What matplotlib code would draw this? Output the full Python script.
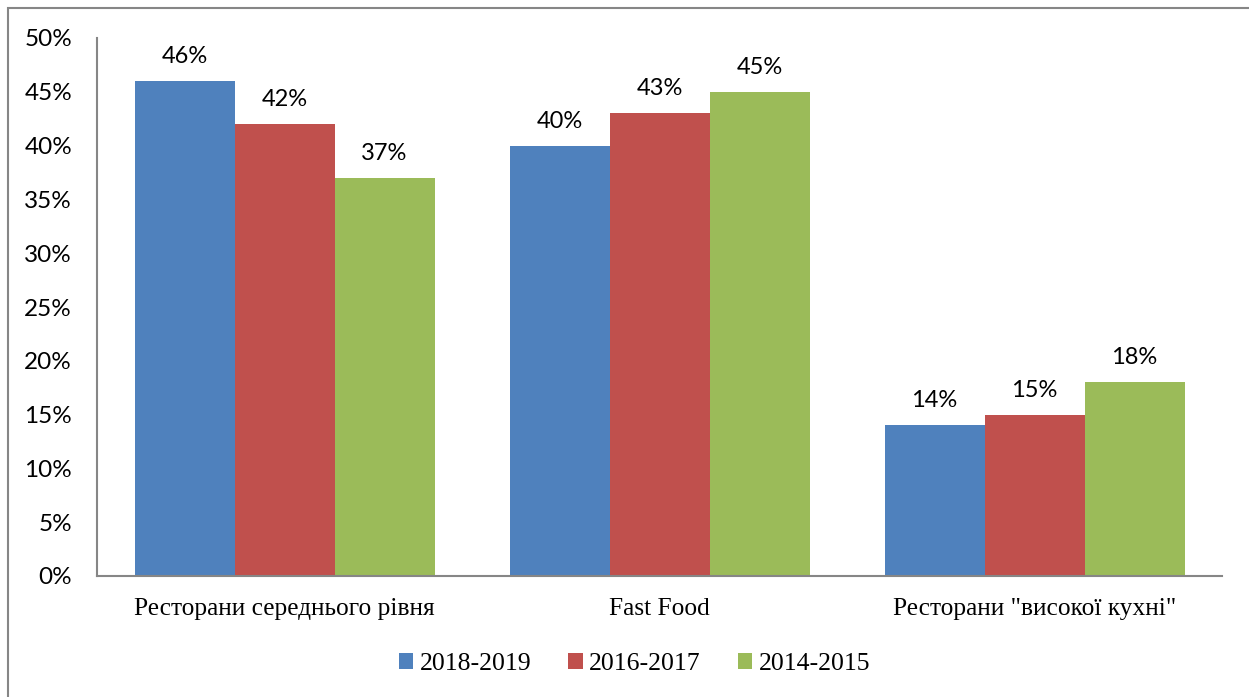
import numpy as np
import matplotlib
matplotlib.use("Agg")
import matplotlib.pyplot as plt
from matplotlib.patches import Rectangle
from matplotlib.ticker import MultipleLocator, FuncFormatter

# categories and series (values in %)
categories = ["Ресторани середнього рівня", "Fast Food", 'Ресторани "високої кухні"']
series_names = ["2018-2019", "2016-2017", "2014-2015"]
vals_2018_2019 = [46, 40, 14]
vals_2016_2017 = [42, 43, 15]
vals_2014_2015 = [37, 45, 18]
colors = ["#4F81BD", "#C0504D", "#9BBB59"]

sans = ["Lato", "DejaVu Sans"]
serif = ["Liberation Serif", "DejaVu Serif"]

fig = plt.figure(figsize=(12.49, 6.97), dpi=100)
ax = fig.add_axes([97 / 1249, 1 - 576 / 697, 1125 / 1249, 538 / 697])

# outer chart frame
fig.patches.append(Rectangle((8 / 1249, -0.1), 1.2, 1 - 8 / 697 + 0.1,
                             transform=fig.transFigure, fill=False,
                             edgecolor="#868686", linewidth=1.5))

x = np.arange(len(categories))
w = 0.8 / 3
all_vals = [vals_2018_2019, vals_2016_2017, vals_2014_2015]
for i, (vals, name, c) in enumerate(zip(all_vals, series_names, colors)):
    bars = ax.bar(x + (i - 1) * w, vals, width=w, color=c, label=name)
    ax.bar_label(bars, labels=[f"{v}%" for v in vals], padding=10,
                 fontsize=17, family=sans)

ax.set_xlim(-0.5, 2.5)
ax.set_ylim(0, 50)
ax.yaxis.set_major_locator(MultipleLocator(5))
ax.yaxis.set_major_formatter(FuncFormatter(lambda v, p: f"{v:.0f}%"))
ax.set_xticks(x)
ax.set_xticklabels(categories, family=serif, fontsize=18.3)
for lab in ax.get_yticklabels():
    lab.set_family(sans)
    lab.set_fontsize(17.5)
ax.tick_params(axis="y", length=0, pad=18)
ax.tick_params(axis="x", length=0, pad=16)

for s in ["top", "right"]:
    ax.spines[s].set_visible(False)
for s in ["left", "bottom"]:
    ax.spines[s].set_color("#868686")
    ax.spines[s].set_linewidth(1.5)

fig.legend(loc="center", bbox_to_anchor=(0.508, 0.047), ncol=3, frameon=False,
           prop={"family": serif, "size": 18.5}, handlelength=0.55,
           handleheight=0.55, handletextpad=0.25, columnspacing=1.45)

fig.savefig("out.png", dpi=100)
